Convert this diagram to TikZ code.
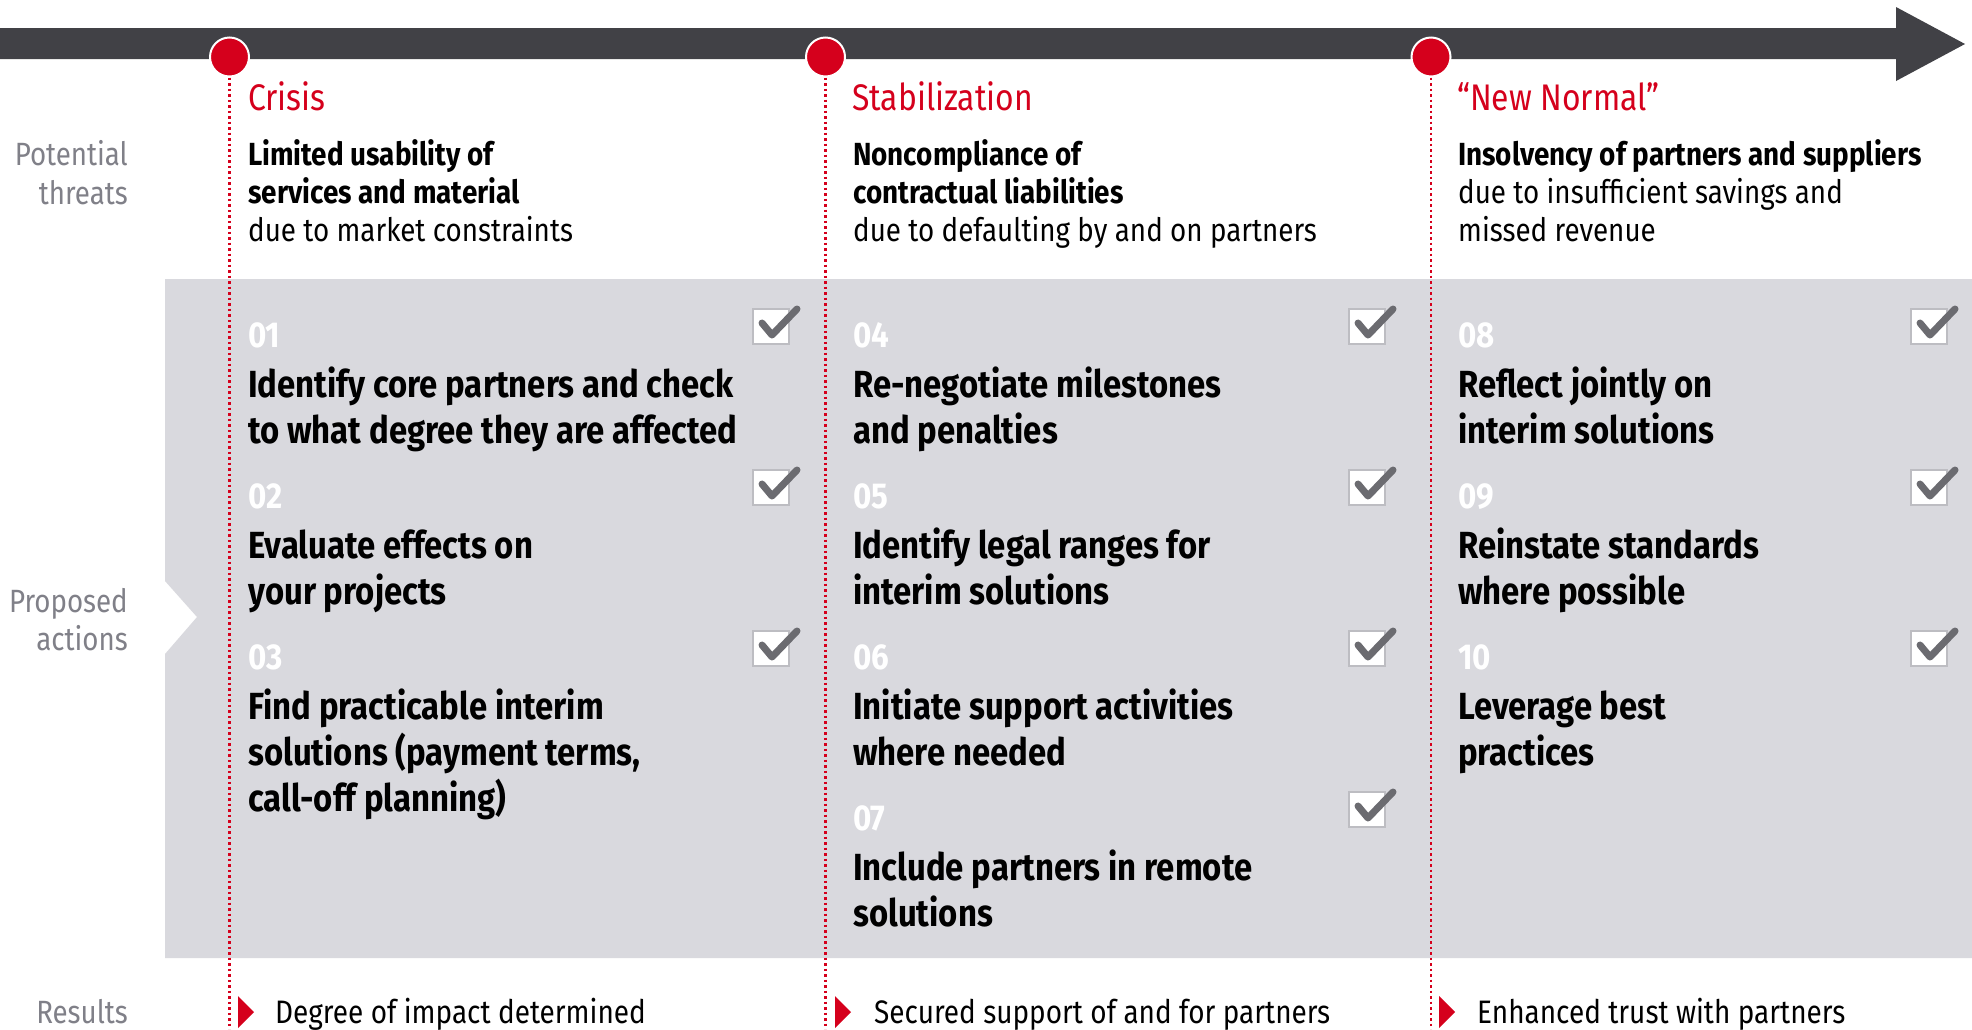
\documentclass[tikz,border=0pt]{standalone}
\usepackage{fontspec}
\setmainfont{Fira Sans}[FakeStretch=0.86]
\newfontfamily\bfam{Fira Sans}[FakeStretch=0.87]
\definecolor{pred}{HTML}{D5001C}
\definecolor{barc}{HTML}{414146}
\definecolor{panelc}{HTML}{D9D9DE}
\definecolor{labgray}{HTML}{808088}
\definecolor{chkgray}{HTML}{6B6B70}
\definecolor{boxgray}{HTML}{BDBDC2}
\tikzset{
  lab/.style={anchor=base east, inner sep=0, text=labgray, font=\fontsize{32.2}{39}\selectfont},
  phase/.style={anchor=base west, inner sep=0, text=pred, font=\fontsize{37}{44}\selectfont},
  thb/.style={anchor=base west, inner sep=0, text=black, font=\bfam\bfseries\fontsize{32}{38}\selectfont},
  thr/.style={anchor=base west, inner sep=0, text=black, font=\fontsize{32.3}{38}\selectfont},
  num/.style={anchor=base west, inner sep=0, text=white, font=\bfam\bfseries\fontsize{36}{40}\selectfont},
  act/.style={anchor=base west, inner sep=0, text=black, font=\bfam\bfseries\fontsize{37.8}{45}\selectfont},
  res/.style={anchor=base west, inner sep=0, text=black, font=\fontsize{32.5}{39}\selectfont},
  dot/.style={circle, fill=pred, draw=white, line width=2pt, minimum size=39pt, inner sep=0},
  vline/.style={pred, line width=2.5pt, dash pattern=on 2.5pt off 3pt},
  chkbox/.pic={
    \fill[white, draw=boxgray, line width=1.5pt] (0,0) rectangle (36,35);
    \draw[chkgray, line width=7pt, line join=round, line cap=round] (9,14) -- (19,26) -- (44,0);
  },
}
\begin{document}
\begin{tikzpicture}[x=1pt,y=-1pt]
\useasboundingbox (0,0) rectangle (1972,1029);
\fill[white] (0,0) rectangle (1972,1029);
% timeline arrow
\fill[barc] (0,28) -- (1896,28) -- (1896,7) -- (1965,44) -- (1896,81) -- (1896,59) -- (0,59) -- cycle;
% gray panel with notch
\fill[panelc] (165,279) -- (1972,279) -- (1972,958) -- (165,958) -- (165,654) -- (197,617) -- (165,581) -- cycle;
% phase dots and dotted lines
\node[dot] (c1) at (229.5,57) {};
\node[dot] (c2) at (825.5,57) {};
\node[dot] (c3) at (1431,57) {};
\coordinate (e1) at (229.5,1029);
\coordinate (e2) at (825.5,1029);
\coordinate (e3) at (1431,1029);
\draw[vline] (c1) -- (e1);
\draw[vline] (c2) -- (e2);
\draw[vline] (c3) -- (e3);
% row labels
\node[lab] (lp1) at (128,165) {Potential};
\node[lab] (lp2) at (128,204) {threats};
\node[lab] (la1) at (128,612) {Proposed};
\node[lab] (la2) at (128,650) {actions};
\node[lab] (lr1) at (128,1023) {Results};
% phases
\node[phase] (p1) at (248,110) {Crisis};
\node[phase] (p2) at (852,110) {Stabilization};
\node[phase] (p3) at (1457,110) {“New Normal”};
% threats
\node[thb] (t1a) at (248,165) {Limited usability of};
\node[thb] (t1b) at (248,203) {services and material};
\node[thr] (t1c) at (248,241) {due to market constraints};
\node[thb] (t2a) at (853,165) {Noncompliance of};
\node[thb] (t2b) at (853,203) {contractual liabilities};
\node[thr] (t2c) at (853,241) {due to defaulting by and on partners};
\node[thb] (t3a) at (1458,165) {Insolvency of partners and suppliers};
\node[thr] (t3b) at (1458,203) {due to insufficient savings and};
\node[thr] (t3c) at (1458,241) {missed revenue};
% column 1 actions
\node[num] (n01) at (248,347) {01};
\node[act] (a01a) at (248,397) {Identify core partners and check};
\node[act] (a01b) at (248,443) {to what degree they are affected};
\node[num] (n02) at (248,508) {02};
\node[act] (a02a) at (248,558) {Evaluate effects on};
\node[act] (a02b) at (248,604) {your projects};
\node[num] (n03) at (248,669) {03};
\node[act] (a03a) at (248,719) {Find practicable interim};
\node[act] (a03b) at (248,765) {solutions (payment terms,};
\node[act] (a03c) at (248,811) {call-off planning)};
% column 2 actions
\node[num] (n04) at (853,347) {04};
\node[act] (a04a) at (853,397) {Re-negotiate milestones};
\node[act] (a04b) at (853,443) {and penalties};
\node[num] (n05) at (853,508) {05};
\node[act] (a05a) at (853,558) {Identify legal ranges for};
\node[act] (a05b) at (853,604) {interim solutions};
\node[num] (n06) at (853,669) {06};
\node[act] (a06a) at (853,719) {Initiate support activities};
\node[act] (a06b) at (853,765) {where needed};
\node[num] (n07) at (853,830) {07};
\node[act] (a07a) at (853,880) {Include partners in remote};
\node[act] (a07b) at (853,926) {solutions};
% column 3 actions
\node[num] (n08) at (1458,347) {08};
\node[act] (a08a) at (1458,397) {Reflect jointly on};
\node[act] (a08b) at (1458,443) {interim solutions};
\node[num] (n09) at (1458,508) {09};
\node[act] (a09a) at (1458,558) {Reinstate standards};
\node[act] (a09b) at (1458,604) {where possible};
\node[num] (n10) at (1458,669) {10};
\node[act] (a10a) at (1458,719) {Leverage best};
\node[act] (a10b) at (1458,765) {practices};
% checkboxes
\pic at (753,309) {chkbox};
\pic at (753,470) {chkbox};
\pic at (753,631) {chkbox};
\pic at (1349,309) {chkbox};
\pic at (1349,470) {chkbox};
\pic at (1349,631) {chkbox};
\pic at (1349,792) {chkbox};
\pic at (1911,309) {chkbox};
\pic at (1911,470) {chkbox};
\pic at (1911,631) {chkbox};
% results
\fill[pred] (238,996) -- (254,1012) -- (238,1028) -- cycle;
\fill[pred] (835,996) -- (851,1012) -- (835,1028) -- cycle;
\fill[pred] (1439,996) -- (1455,1012) -- (1439,1028) -- cycle;
\node[res] (r1) at (275,1023) {Degree of impact determined};
\node[res] (r2) at (874,1023) {Secured support of and for partners};
\node[res] (r3) at (1477,1023) {Enhanced trust with partners};
\end{tikzpicture}
\end{document}
